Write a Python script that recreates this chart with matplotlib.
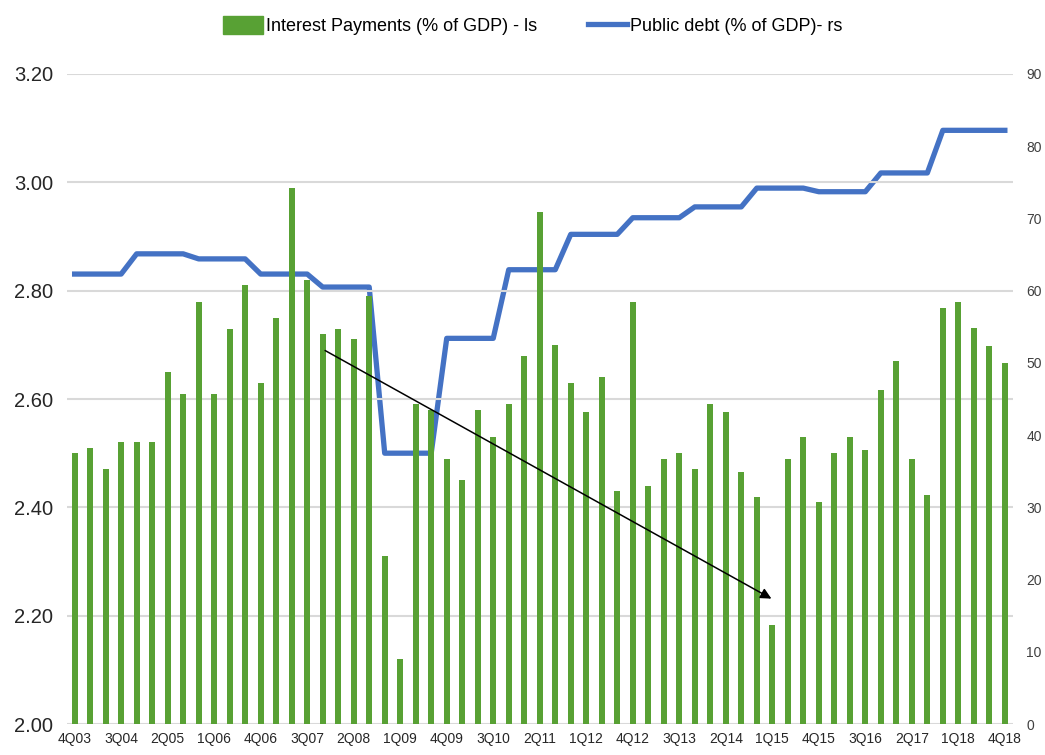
import numpy as np
import matplotlib
matplotlib.use("Agg")
import matplotlib.pyplot as plt
from matplotlib.patches import Patch
from matplotlib.lines import Line2D

plt.rcParams['font.family'] = ['Liberation Sans Narrow', 'Liberation Sans', 'DejaVu Sans']

# Trimestres 4Q03 .. 4Q18
trimestres = []
for anio in range(2003, 2019):
    for q in range(1, 5):
        if anio == 2003 and q < 4:
            continue
        trimestres.append(f"{q}Q{str(anio)[2:]}")

# Pago de intereses (% del PIB) - eje izquierdo
intereses = [2.50, 2.51, 2.47, 2.52, 2.52, 2.52, 2.65, 2.61, 2.78, 2.61,
             2.73, 2.81, 2.63, 2.75, 2.99, 2.82, 2.72, 2.73, 2.71, 2.79,
             2.31, 2.12, 2.59, 2.58, 2.49, 2.45, 2.58, 2.53, 2.59, 2.68,
             2.945, 2.70, 2.63, 2.576, 2.64, 2.43, 2.78, 2.44, 2.49, 2.50,
             2.47, 2.59, 2.576, 2.465, 2.42, 2.183, 2.49, 2.53, 2.41, 2.50,
             2.53, 2.505, 2.617, 2.67, 2.49, 2.423, 2.768, 2.779, 2.731, 2.698,
             2.667]

# Deuda publica (% del PIB) - eje derecho
deuda = [62.3] * 4 + [65.1] * 4 + [64.4] * 4 + [62.3] * 4 + [60.5] * 4 + \
        [37.5] * 4 + [53.4] * 4 + [62.9] * 4 + [67.8] * 4 + [70.1] * 4 + \
        [71.6] * 4 + [74.2] * 4 + [73.7] * 4 + [76.3] * 4 + [82.2] * 5

# Flecha de tendencia (indice de trimestre, valor eje izquierdo)
flecha_inicio = (16, 2.692)
flecha_fin = (45.1, 2.229)

verde = '#58A134'
azul = '#4472C4'
gris_grid = '#D9D9D9'

x = np.arange(len(trimestres))

fig = plt.figure(figsize=(10.45, 7.55), dpi=100)
ax = fig.add_axes([0.064, 0.041, 0.905, 0.861])
ax2 = ax.twinx()

ax.bar(x, intereses, width=0.4, color=verde, zorder=2)
ax.set_ylim(2.0, 3.2)
ax.set_yticks(np.arange(2.0, 3.21, 0.2))
ax.set_yticklabels([f"{v:.2f}" for v in np.arange(2.0, 3.21, 0.2)])
ax.set_xlim(-0.5, len(x) - 0.5)
ax.set_xticks(x[::3])
ax.set_xticklabels(trimestres[::3])
ax.grid(axis='y', color=gris_grid, linewidth=1.5, zorder=0)
ax.set_axisbelow(True)
ax.tick_params(axis='y', length=0, labelsize=14.5, labelcolor='#262626', pad=10)
ax.tick_params(axis='x', length=0, labelsize=10, labelcolor='#262626', pad=6)

ax2.plot(x, deuda, color=azul, linewidth=3.8, solid_joinstyle='round', zorder=3)
ax2.set_ylim(0, 90)
ax2.set_yticks(np.arange(0, 91, 10))
ax2.tick_params(axis='y', length=0, labelsize=10, labelcolor='#404040', pad=10)

for a in (ax, ax2):
    for s in a.spines.values():
        s.set_visible(False)

ax.annotate('', xy=flecha_fin, xytext=flecha_inicio,
            arrowprops=dict(arrowstyle='-|>', color='black', lw=1.1,
                            mutation_scale=16), zorder=5)
ax.set_zorder(ax2.get_zorder() + 1)
ax.patch.set_visible(False)

handles = [Patch(facecolor=verde, edgecolor=verde),
           Line2D([0], [0], color=azul, linewidth=3.8)]
labels = ['Interest Payments (% of GDP) - ls', 'Public debt (% of GDP)- rs']
fig.legend(handles, labels, loc='upper center', bbox_to_anchor=(0.51, 1.0),
           ncol=2, frameon=False, fontsize=13, handlelength=2.2,
           handleheight=1.1, handletextpad=0.15, columnspacing=2.8)

fig.savefig('out.png', dpi=100)
